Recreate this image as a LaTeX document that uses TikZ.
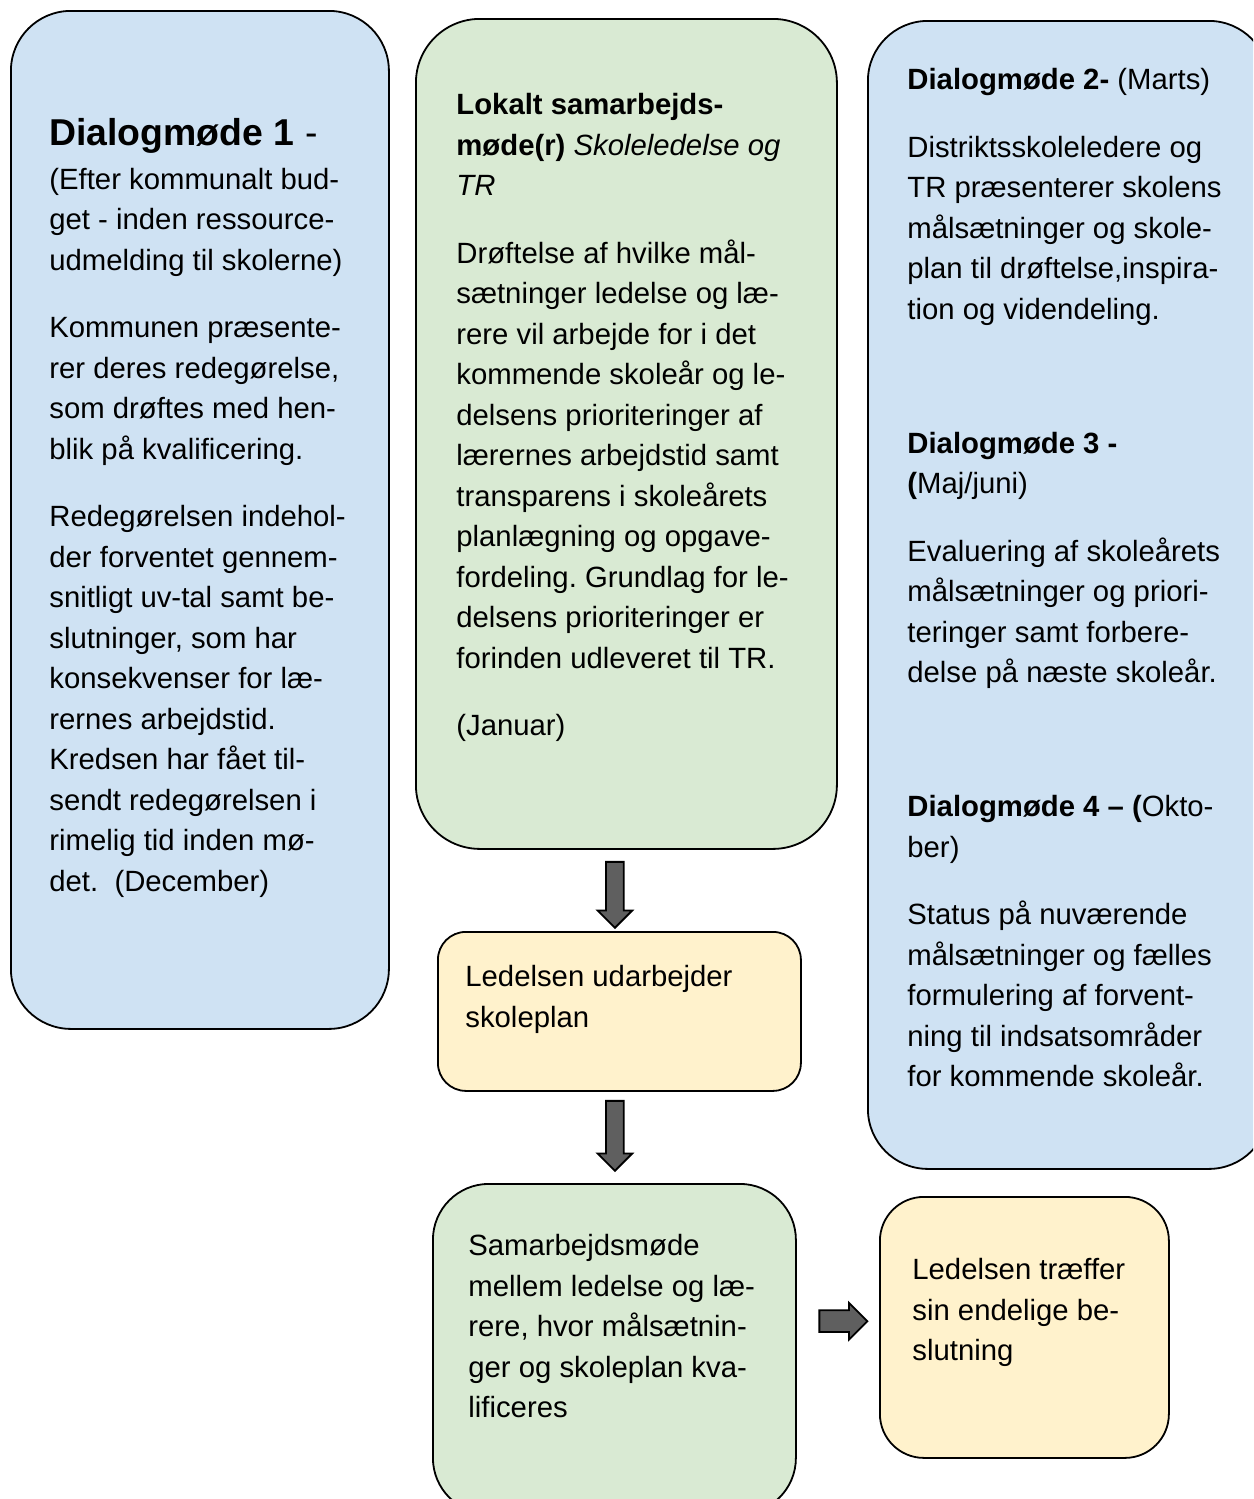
\documentclass[tikz,border=0pt]{standalone}
\usepackage{fontspec}
\setmainfont{Liberation Sans}
\usetikzlibrary{positioning, calc, shapes.arrows}
\definecolor{dialogblue}{HTML}{CFE2F3}
\definecolor{samgreen}{HTML}{D9EAD3}
\definecolor{planyellow}{HTML}{FFF2CC}
\definecolor{arrowgray}{HTML}{5F5F5F}
\frenchspacing

\begin{document}
\begin{tikzpicture}[
    x=0.5pt, y=-0.5pt,
    box/.style={draw, line width=0.9pt, anchor=north west, inner sep=0pt},
    txt/.style={anchor=north west, inner sep=0pt, align=left, font=\fontsize{14.65}{20.25}\selectfont},
    downarrow/.style={single arrow, draw, line width=0.9pt, fill=arrowgray, inner xsep=4pt, inner ysep=0pt,
        minimum height=33pt, single arrow head extend=4.25pt, shape border rotate=270},
    rightarrow/.style={single arrow, draw, line width=0.9pt, fill=arrowgray, inner xsep=0pt, inner ysep=5pt,
        minimum height=24pt, single arrow head extend=3.75pt},
]
    \useasboundingbox (0,0) rectangle (1253,1499);
    \clip (0,0) rectangle (1253,1499);

    % Boxes
    \node[box, fill=dialogblue, rounded corners=30pt, minimum width=189pt, minimum height=509pt] (dm1) at (10,10) {};
    \node[box, fill=samgreen, rounded corners=32pt, minimum width=210.5pt, minimum height=415pt] (lokalt) at (415,18) {};
    \node[box, fill=dialogblue, rounded corners=30pt, minimum width=200.5pt, minimum height=574pt] (dm234) at (867,20) {};
    \node[box, fill=planyellow, rounded corners=14pt, minimum width=181.5pt, minimum height=79.5pt] (plan) at (437,931) {};
    \node[box, fill=samgreen, rounded corners=28pt, minimum width=181.5pt, minimum height=165pt] (samarb) at (432,1183) {};
    \node[box, fill=planyellow, rounded corners=22pt, minimum width=144.5pt, minimum height=130.5pt] (endelig) at (879,1196) {};

    % Texts
    \node[txt] (dm1txt) at ([shift={(39,108)}]dm1.north west) {%
        {\fontsize{18.7}{22}\selectfont\bfseries Dialogmøde 1}{\fontsize{18.7}{22}\selectfont\ -}\\[1.5pt]
        (Efter kommunalt bud-\\
        get - inden ressource-\\
        udmelding til skolerne)\\[13.5pt]
        Kommunen præsente-\\
        rer deres redegørelse,\\
        som drøftes med hen-\\
        blik på kvalificering.\\[13.5pt]
        Redegørelsen indehol-\\
        der forventet gennem-\\
        snitligt uv-tal samt be-\\
        slutninger, som har\\
        konsekvenser for læ-\\
        rernes arbejdstid.\\
        Kredsen har fået til-\\
        sendt redegørelsen i\\
        rimelig tid inden mø-\\
        det.\ \ (December)};
    \node[txt] (lokalttxt) at ([shift={(41,75)}]lokalt.north west) {%
        \textbf{Lokalt samarbejds-}\\
        \textbf{møde(r)}\ \textit{Skoleledelse og}\\
        \textit{TR}\\[13.5pt]
        Drøftelse af hvilke mål-\\
        sætninger ledelse og læ-\\
        rere vil arbejde for i det\\
        kommende skoleår og le-\\
        delsens prioriteringer af\\
        lærernes arbejdstid samt\\
        transparens i skoleårets\\
        planlægning og opgave-\\
        fordeling. Grundlag for le-\\
        delsens prioriteringer er\\
        forinden udleveret til TR.\\[13.5pt]
        (Januar)};
    \node[txt] (dm234txt) at ([shift={(40,48)}]dm234.north west) {%
        \textbf{Dialogmøde 2-}\ (Marts)\\[13.5pt]
        Distriktsskoleledere og\\
        TR præsenterer skolens\\
        målsætninger og skole-\\
        plan til drøftelse,inspira-\\
        tion og videndeling.\\[46.75pt]
        \textbf{Dialogmøde 3 -}\\
        \textbf{(}Maj/juni)\\[13.5pt]
        Evaluering af skoleårets\\
        målsætninger og priori-\\
        teringer samt forbere-\\
        delse på næste skoleår.\\[46.75pt]
        \textbf{Dialogmøde 4 – (}Okto-\\
        ber)\\[13.5pt]
        Status på nuværende\\
        målsætninger og fælles\\
        formulering af forvent-\\
        ning til indsatsområder\\
        for kommende skoleår.};
    \node[txt] (plantxt) at ([shift={(28,34)}]plan.north west) {%
        Ledelsen udarbejder\\
        skoleplan};
    \node[txt] (samarbtxt) at ([shift={(36,51)}]samarb.north west) {%
        Samarbejdsmøde\\
        mellem ledelse og læ-\\
        rere, hvor målsætnin-\\
        ger og skoleplan kva-\\
        lificeres};
    \node[txt] (endeligtxt) at ([shift={(33,62)}]endelig.north west) {%
        Ledelsen træffer\\
        sin endelige be-\\
        slutning};

    % Arrows
    \node[downarrow] (pilA) at ($(lokalt.south)!0.5!(plan.north) + (-8,0)$) {};
    \node[downarrow, minimum height=35pt] (pilB) at ($(plan.south)!0.5!(samarb.north) + (-2,-6)$) {};
    \node[rightarrow] (pilC) at ($(samarb.east)!0.5!(endelig.west) + (0,-17)$) {};
\end{tikzpicture}
\end{document}
